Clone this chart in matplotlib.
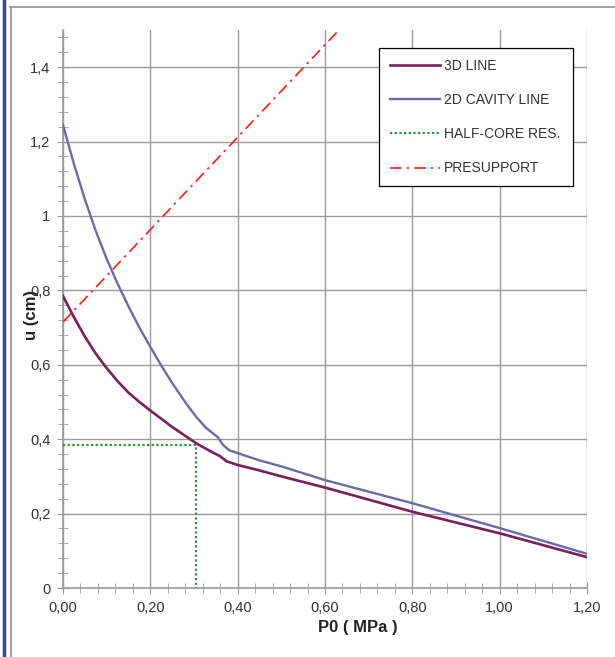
import matplotlib
matplotlib.use("Agg")
import matplotlib.pyplot as plt
from matplotlib.ticker import MultipleLocator, FuncFormatter
from matplotlib.lines import Line2D

plt.rcParams["font.family"] = ["Liberation Sans", "DejaVu Sans"]

# 3D line
p_3d = [0, 0.025, 0.05, 0.075, 0.1, 0.125, 0.15, 0.175, 0.2, 0.25, 0.305, 0.34, 0.359, 0.374, 0.399, 0.45, 0.5, 0.6, 0.8, 1.0, 1.2]
u_3d = [0.785, 0.728, 0.676, 0.630, 0.591, 0.556, 0.525, 0.500, 0.477, 0.433, 0.389, 0.366, 0.355, 0.341, 0.331, 0.316, 0.300, 0.27, 0.205, 0.147, 0.083]

# 2D cavity line
p_2d = [0, 0.025, 0.05, 0.075, 0.1, 0.125, 0.15, 0.175, 0.2, 0.225, 0.25, 0.282, 0.305, 0.328, 0.355, 0.366, 0.381, 0.399, 0.45, 0.5, 0.6, 0.8, 1.0, 1.2]
u_2d = [1.245, 1.140, 1.045, 0.960, 0.885, 0.818, 0.757, 0.700, 0.648, 0.598, 0.551, 0.496, 0.460, 0.430, 0.405, 0.385, 0.370, 0.363, 0.343, 0.327, 0.29, 0.228, 0.161, 0.092]

# half-core resistance
p_hc = [0, 0.305, 0.305]
u_hc = [0.385, 0.385, 0]

# presupport
p_ps = [0, 0.64]
u_ps = [0.715, 1.51]

fig = plt.figure(figsize=(6.15, 6.57), dpi=100)
ax = fig.add_axes([63 / 615, 1 - 588 / 657, 524 / 615, 558 / 657])

ax.plot(p_3d, u_3d, color="#7a1f5c", lw=1.9, label="3D LINE", zorder=4)
ax.plot(p_2d, u_2d, color="#6a6aa8", lw=1.7, label="2D CAVITY LINE", zorder=3)
ax.plot(p_hc, u_hc, color="#22963a", lw=1.6, ls=(0, (1, 1.1)), label="HALF-CORE RES.", zorder=3)
ax.plot(p_ps, u_ps, color="#ff1a1a", lw=1.2, ls=(0, (7, 3, 1.5, 3)), label="PRESUPPORT", zorder=3)

ax.set_xlim(0, 1.2)
ax.set_ylim(0, 1.5)
ax.xaxis.set_major_locator(MultipleLocator(0.2))
ax.xaxis.set_minor_locator(MultipleLocator(0.04))
ax.yaxis.set_major_locator(MultipleLocator(0.2))
ax.yaxis.set_minor_locator(MultipleLocator(0.04))
ax.xaxis.set_major_formatter(FuncFormatter(lambda v, p: f"{v:.2f}".replace(".", ",")))
ax.yaxis.set_major_formatter(FuncFormatter(lambda v, p: f"{round(v, 1):g}".replace(".", ",")))

ax.grid(True, which="major", color="#9a9a9a", lw=1)
for s in ["top", "right"]:
    ax.spines[s].set_visible(False)
for s in ["left", "bottom"]:
    ax.spines[s].set_color("#9a9a9a")
    ax.spines[s].set_linewidth(1.2)
ax.tick_params(which="both", direction="inout", color="#9a9a9a", labelcolor="#333333", labelsize=10.5)
ax.tick_params(which="major", length=8, pad=5)
ax.tick_params(which="minor", length=7)

ax.set_xlabel("P0 ( MPa )", fontsize=12, fontweight="bold", color="#222222", va="center")
ax.set_ylabel("u (cm)", fontsize=12, fontweight="bold", color="#222222", va="center")
ax.xaxis.set_label_coords(0.563, -0.070)
ax.yaxis.set_label_coords(-0.060, 0.489)

leg = ax.legend(loc="upper left", bbox_to_anchor=(0.603, 0.731, 0.37, 0.237), mode="expand",
                fontsize=10, handlelength=3.6, labelspacing=1.45, handletextpad=0.3,
                fancybox=False, framealpha=1, borderpad=0.8, borderaxespad=0)
leg.get_frame().set_edgecolor("black")
leg.get_frame().set_linewidth(0.9)
for t in leg.get_texts():
    t.set_color("#333333")

# outer frame
fig.add_artist(Line2D([10.5 / 615, 10.5 / 615], [0, 1 - 6.5 / 657], transform=fig.transFigure, color="#9a9a9a", lw=1.3))
fig.add_artist(Line2D([10 / 615, 1], [1 - 6.5 / 657, 1 - 6.5 / 657], transform=fig.transFigure, color="#9a9a9a", lw=1.3))
fig.add_artist(Line2D([3.5 / 615, 3.5 / 615], [0, 1], transform=fig.transFigure, color="#3a45a0", lw=2.5))

fig.savefig("out.png", dpi=100)
